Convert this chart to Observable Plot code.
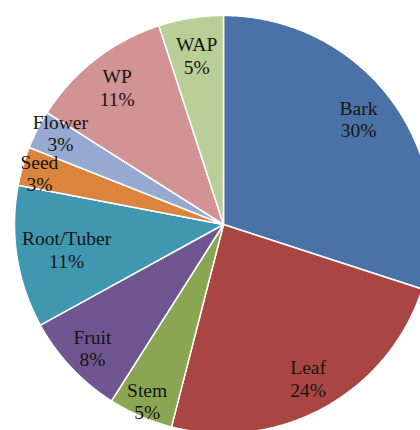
<!DOCTYPE html>
<html>
<head>
<meta charset="utf-8">
<script src="https://cdn.jsdelivr.net/npm/d3@7"></script>
<script src="https://cdn.jsdelivr.net/npm/@observablehq/plot@0.6"></script>
<style>
  html, body { margin: 0; padding: 0; background: #fff; }
  #chart { width: 420px; height: 430px; overflow: hidden; }
</style>
</head>
<body>
<div id="chart"></div>
<script>
// ---- data ----
const categories = ["Bark", "Leaf", "Stem", "Fruit", "Root/Tuber", "Seed", "Flower", "WP", "WAP"];
const percents   = [30, 24, 5, 8, 11, 3, 3, 11, 5];
const colors     = ["#4A72A6", "#A94644", "#8BA652", "#6F5690", "#4098B0", "#DA843E", "#95A9D1", "#D19393", "#BACF98"];

// ---- layout (not data) ----
const W = 420, H = 430;
const cx = 223, cy = 224, R = 209;
const labelRadius = [0.82, 0.84, 0.92, 0.86, 0.76, 0.915, 0.895, 0.83, 0.82];
const labelTurn   = [-2, 0, 0, 0, 0, -0.5, 2.3, 0, 0]; // degrees

const total = d3.sum(percents);
let acc = 0;
const slices = categories.map((c, i) => {
  const a0 = acc / total * 2 * Math.PI;
  acc += percents[i];
  const a1 = acc / total * 2 * Math.PI;
  return {c, i, a0, a1, v: percents[i]};
});

// polygon points for each slice (angle clockwise from 12 o'clock)
const pts = [];
for (const s of slices) {
  pts.push({c: s.c, x: 0, y: 0});
  const n = Math.max(2, Math.ceil((s.a1 - s.a0) / 0.01));
  for (let k = 0; k <= n; k++) {
    const a = s.a0 + (s.a1 - s.a0) * k / n;
    pts.push({c: s.c, x: Math.sin(a), y: Math.cos(a)});
  }
}

const labels = slices.map(s => {
  const a = (s.a0 + s.a1) / 2 + labelTurn[s.i] * Math.PI / 180;
  const r = labelRadius[s.i];
  return {x: r * Math.sin(a), y: r * Math.cos(a), text: `${s.c}\n${s.v}%`};
});

const plot = Plot.plot({
  width: W,
  height: H,
  margin: 0,
  x: {domain: [-cx / R, (W - cx) / R], range: [0, W], axis: null},
  y: {domain: [-(H - cy) / R, cy / R], range: [H, 0], axis: null},
  color: {domain: categories, range: colors},
  style: {background: "#fff"},
  marks: [
    Plot.line(pts, {
      x: "x", y: "y", z: "c", fill: "c",
      stroke: "#fff", strokeWidth: 1.5, strokeLinejoin: "round",
      curve: "linear-closed"
    }),
    Plot.text(labels, {
      x: "x", y: "y", text: "text",
      fontSize: 19.5, lineHeight: 1.15,
      fontFamily: "'Liberation Serif', 'Times New Roman', serif",
      fill: "#151515"
    })
  ]
});
document.getElementById("chart").appendChild(plot);
</script>
</body>
</html>
